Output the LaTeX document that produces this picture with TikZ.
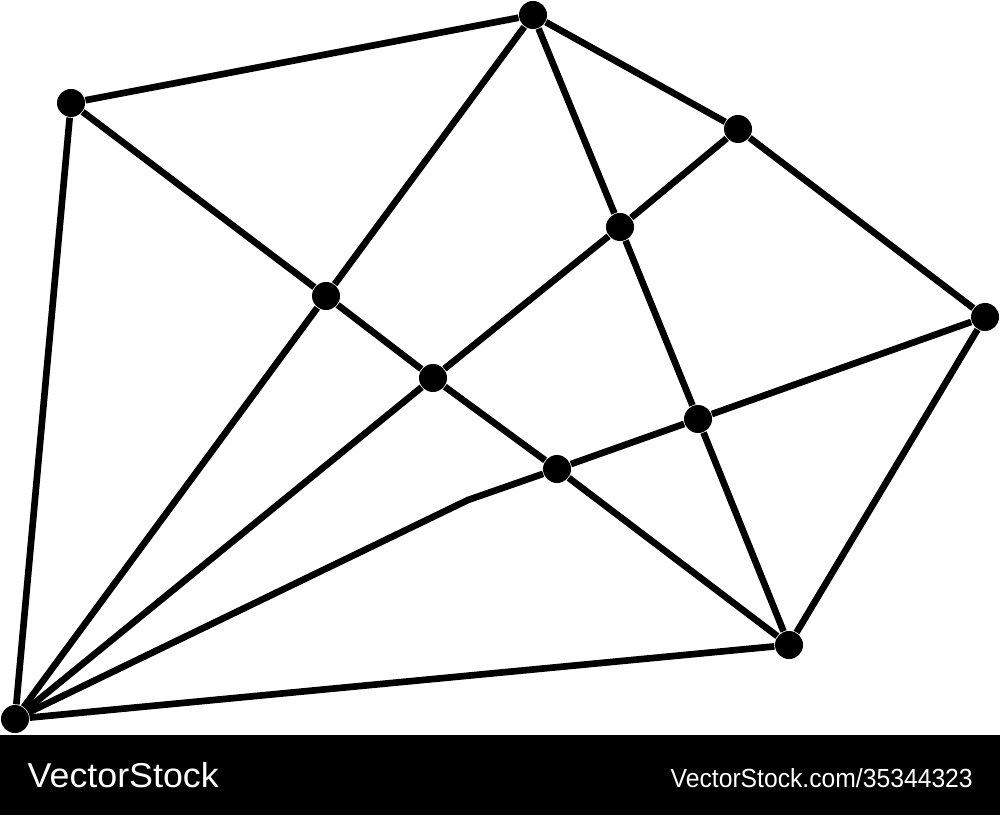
\documentclass[tikz,border=0pt]{standalone}
\usepackage{fontspec}
\setmainfont{Liberation Sans}
\usepackage{graphicx}
\usetikzlibrary{positioning}

\tikzset{
  dot/.style={circle,fill=black,inner sep=0pt,minimum size=2.8mm},
  edge/.style={line width=1.9pt,line join=round},
  stamp/.style={text=white,inner sep=0pt,anchor=base west}
}

\begin{document}
\begin{tikzpicture}[x=1cm,y=1cm]
    \useasboundingbox (0,0) rectangle (10,-8.15);
    % vertices
    \node[dot] (v1)  at (0.71,-1.03) {};
    \node[dot] (v2)  at (5.33,-0.15) {};
    \node[dot] (v3)  at (7.38,-1.29) {};
    \node[dot] (v4)  at (6.20,-2.27) {};
    \node[dot] (v5)  at (9.85,-3.17) {};
    \node[dot] (v6)  at (3.26,-2.96) {};
    \node[dot] (v7)  at (4.33,-3.78) {};
    \node[dot] (v8)  at (6.98,-4.19) {};
    \node[dot] (v9)  at (5.57,-4.69) {};
    \node[dot] (v10) at (7.89,-6.45) {};
    \node[dot] (v11) at (0.15,-7.19) {};
    \coordinate (bend) at (4.68,-5.00);

    % edges
    \foreach \a/\b in {v1/v2, v1/v11, v1/v6, v6/v7, v7/v9, v9/v10,
                       v2/v6, v6/v11, v2/v3, v3/v5, v5/v10, v10/v11,
                       v2/v4, v4/v8, v8/v10, v3/v4, v4/v7, v7/v11,
                       v5/v8, v8/v9}
        \draw[edge] (\a) -- (\b);
    \draw[edge] (v9) -- (bend) -- (v11);

    % banner
    \fill[black] (0,-7.35) rectangle (10,-8.15);
    \node[stamp] (brand) at (0.27,-7.87) {\resizebox{1.91cm}{0.25cm}{VectorStock}};
    \node[stamp] (ref) at (6.70,-7.87) {\resizebox{3.02cm}{0.19cm}{VectorStock.com/35344323}};
\end{tikzpicture}
\end{document}
